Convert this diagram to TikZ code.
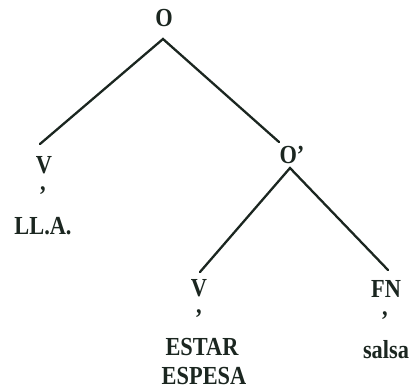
\documentclass[tikz,border=0pt]{standalone}
\usepackage{fontspec}
\setmainfont[FakeStretch=0.86]{Liberation Serif}
\begin{document}
\begin{tikzpicture}[x=1pt,y=-1pt,
  lab/.style={font=\bfseries\fontsize{26}{29}\selectfont, text=ink, inner sep=0pt, anchor=center},
  edge/.style={draw=ink, line width=2.3pt, line cap=round}]
\definecolor{ink}{HTML}{1B2620}
\useasboundingbox (0,0) rectangle (418,389);
\node[lab] (O) at (164,18) {O};
\coordinate (Oa) at (163,39);
\coordinate (V1t) at (40,144);
\node[lab] (V1) at (44,165.5) {V};
\node[lab] (c1) at (43,191) {,};
\node[lab] (LLA) at (43,226.5) {LL.A.};
\coordinate (Opt) at (279,142);
\node[lab] (Op) at (292,154.5) {O'};
\coordinate (Opa) at (290,168);
\coordinate (V2t) at (200,272);
\coordinate (FNt) at (388,270);
\node[lab] (V2) at (199,288) {V};
\node[lab] (c2) at (199,314) {,};
\node[lab] (ESTAR) at (202,347) {ESTAR};
\node[lab] (ESPESA) at (204,376) {ESPESA};
\node[lab] (FN) at (386,289) {FN};
\node[lab] (c3) at (385,316) {,};
\node[lab] (salsa) at (386,350) {salsa};
\draw[edge] (V1t) -- (Oa) -- (Opt);
\draw[edge] (V2t) -- (Opa) -- (FNt);
\end{tikzpicture}
\end{document}
